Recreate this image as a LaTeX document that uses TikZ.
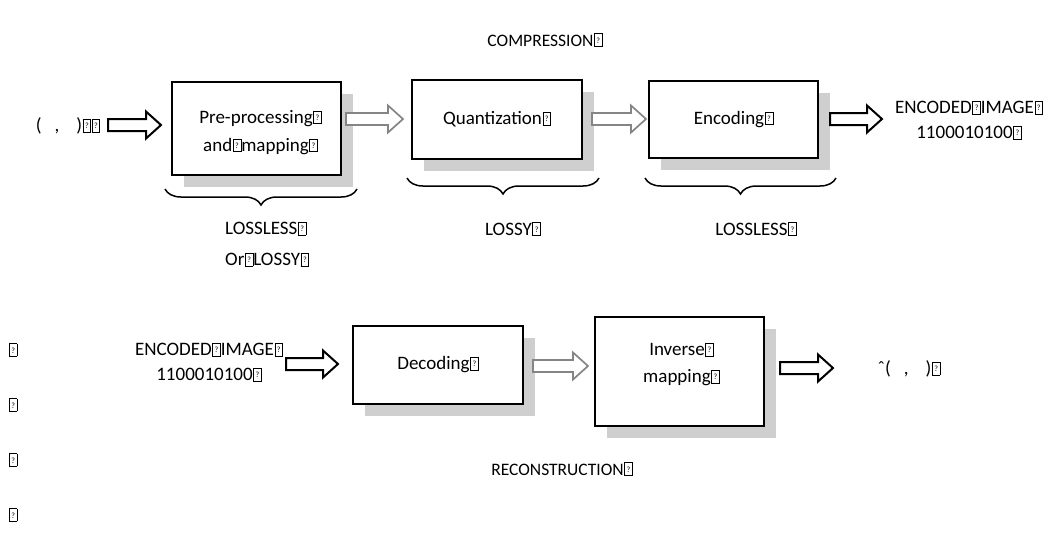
\documentclass[tikz,border=0pt]{standalone}
\usepackage{fontspec}
\setmainfont{Carlito}
\usetikzlibrary{calc,shadows,decorations.pathreplacing}

% placeholder glyph box
\newcommand{\mg}{\kern0.6pt{\setlength{\fboxsep}{0pt}\setlength{\fboxrule}{0.7pt}\fbox{\makebox[7pt]{\rule{0pt}{12pt}\raisebox{3pt}{\fontsize{8}{8}\selectfont ?}}}}}

% hollow block arrow from #2 to #3 (horizontal), style #1
\newcommand{\blockarrow}[3]{%
  \draw[#1] let \p1=(#2), \p2=(#3) in
    (\x1,\y1+6) -- (\x2-15,\y1+6) -- (\x2-15,\y1+13.5) -- (\x2,\y1)
    -- (\x2-15,\y1-13.5) -- (\x2-15,\y1-6) -- (\x1,\y1-6) -- cycle;}

\tikzset{
  stage/.style={draw=black, line width=1.8pt, fill=white, inner sep=2pt,
    align=center, font=\fontsize{19}{28}\selectfont,
    drop shadow={shadow xshift=12pt, shadow yshift=-12pt, fill=black!19, opacity=1}},
  txt/.style={inner sep=0pt, font=\fontsize{19}{24}\selectfont, align=center},
  head/.style={inner sep=0pt, font=\fontsize{17.5}{22}\selectfont},
  blk/.style={draw=black, line width=2pt, fill=white, line join=miter},
  gry/.style={draw=black!48, line width=1.7pt, fill=white, line join=miter},
  brc/.style={draw=black, line width=1.5pt,
    decorate, decoration={brace, mirror, amplitude=16pt}}
}

\begin{document}
\begin{tikzpicture}[x=1pt, y=-1pt]
\useasboundingbox[fill=white] (0,0) rectangle (1061,550);

% ---------- compression chain ----------
\node[head] (title1) at (545,40) {COMPRESSION\mg};
\node[txt] (fxy) at (68,126) {(\hspace{13pt},\hspace{17pt})\mg\mg};

\node[stage, minimum width=169pt, minimum height=93pt] (pre) at (256.5,128.5) {};
\node[txt, font=\fontsize{19}{28}\selectfont] (pretxt) at ($(pre.center)+(4,4)$)
  {Pre-processing\mg\\and\mg mapping\mg};
\node[stage, minimum width=170pt, minimum height=79pt] (quant) at (497,119.5)
  {Quantization\mg};
\node[stage, minimum width=169pt, minimum height=77pt] (enc) at (733.5,119.5)
  {Encoding\mg};
\node[txt, font=\fontsize{19}{25}\selectfont] (code1) at (969,120)
  {ENCODED\mg IMAGE\mg\\1100010100\mg};

\coordinate (a0s) at (108,125);  \coordinate (a0e) at (161,125);
\coordinate (a1s) at (346,119);  \coordinate (a1e) at (403,119);
\coordinate (a2s) at (592,119);  \coordinate (a2e) at (646,119);
\coordinate (a3s) at (830,119);  \coordinate (a3e) at (882,119);
\blockarrow{blk}{a0s}{a0e}
\blockarrow{gry}{a1s}{a1e}
\blockarrow{gry}{a2s}{a2e}
\blockarrow{blk}{a3s}{a3e}

% braces and their labels
\draw[brc] (165,189) -- (357,189);
\draw[brc] (407,178) -- (599,178);
\draw[brc] (645,178) -- (836,178);
\node[txt, anchor=west, align=left, font=\fontsize{19}{31}\selectfont] (lab1) at (225,244)
  {LOSSLESS\mg\\Or\mg LOSSY\mg};
\node[txt] (lab2) at (513,229) {LOSSY\mg};
\node[txt] (lab3) at (756,229) {LOSSLESS\mg};

% ---------- reconstruction chain ----------
\node[txt, font=\fontsize{19}{25}\selectfont] (code2) at (209,362)
  {ENCODED\mg IMAGE\mg\\1100010100\mg};
\node[stage, minimum width=170pt, minimum height=78pt] (dec) at (438,365)
  {Decoding\mg};
\node[stage, minimum width=169pt, minimum height=109pt] (inv) at (679.5,371.5) {};
\node[txt, font=\fontsize{19}{27}\selectfont] (invtxt) at ($(inv.center)+(2,-7)$)
  {Inverse\mg\\mapping\mg};
\node[txt] (fhat) at (909,369) {ˆ(\hspace{13pt},\hspace{17pt})\mg};
\node[head] (title2) at (562,469) {RECONSTRUCTION\mg};

\coordinate (b0s) at (286,364);  \coordinate (b0e) at (338,364);
\coordinate (b1s) at (533,366);  \coordinate (b1e) at (588,366);
\coordinate (b2s) at (780,368);  \coordinate (b2e) at (833,368);
\blockarrow{blk}{b0s}{b0e}
\blockarrow{gry}{b1s}{b1e}
\blockarrow{blk}{b2s}{b2e}

% stray placeholder marks down the left margin
\node[txt] (m1) at (13,350) {\mg};
\node[txt] (m2) at (13,405) {\mg};
\node[txt] (m3) at (13,460) {\mg};
\node[txt] (m4) at (13,515) {\mg};
\end{tikzpicture}
\end{document}
